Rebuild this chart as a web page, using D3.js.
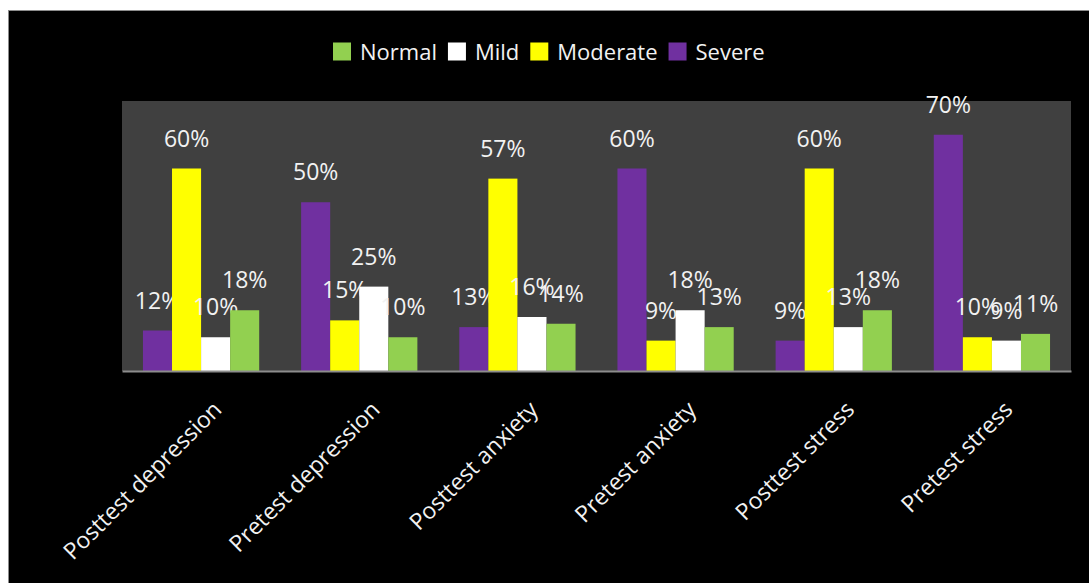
<!DOCTYPE html>
<html>
<head>
<meta charset="utf-8">
<script src="https://cdn.jsdelivr.net/npm/d3@7"></script>
<style>
  html, body { margin: 0; padding: 0; background: #ffffff; }
  svg { display: block; }
  text { font-family: "Open Sans", "Noto Sans", sans-serif; }
</style>
</head>
<body>
<svg id="chart" width="1089" height="583"></svg>
<script>
// ---- data ----
const categories = ["Posttest depression", "Pretest depression", "Posttest anxiety", "Pretest anxiety", "Posttest stress", "Pretest stress"];
const seriesOrder = ["Severe", "Moderate", "Mild", "Normal"];      // bar order inside a group
const legendOrder = ["Normal", "Mild", "Moderate", "Severe"];
const severe   = [12, 50, 13, 60, 9, 70];
const moderate = [60, 15, 57, 9, 60, 10];
const mild     = [10, 25, 16, 18, 13, 9];
const normal   = [18, 10, 14, 13, 18, 11];
const yTicks   = [0, 10, 20, 30, 40, 50, 60, 70, 80];

const seriesValues = { Severe: severe, Moderate: moderate, Mild: mild, Normal: normal };
const colors = { Normal: "#92D050", Mild: "#FFFFFF", Moderate: "#FFFF00", Severe: "#7030A0" };

const W = 1089, H = 583;
const plot = { left: 122, right: 1071, top: 101, bottom: 371 };

const svg = d3.select("#chart");

// outer black chart area with thin grey border
svg.append("rect")
  .attr("x", 8.5).attr("y", 10.5)
  .attr("width", W + 10).attr("height", H + 10)
  .attr("fill", "#000000").attr("stroke", "#8c8c8c").attr("stroke-width", 1);

// plot area
svg.append("rect")
  .attr("x", plot.left).attr("y", plot.top)
  .attr("width", plot.right - plot.left).attr("height", plot.bottom - plot.top)
  .attr("fill", "#404040");

const x0 = d3.scaleBand().domain(categories).range([plot.left, plot.right])
  .paddingInner(0.265).paddingOuter(0.1325);
const x1 = d3.scaleBand().domain(seriesOrder).range([0, x0.bandwidth()]).padding(0);
const y = d3.scaleLinear().domain([0, d3.max(yTicks)]).range([plot.bottom, plot.top]);

const groups = svg.append("g").selectAll("g")
  .data(categories).join("g")
  .attr("transform", d => `translate(${x0(d)},0)`);

const cells = groups.selectAll("g.cell")
  .data((c, i) => seriesOrder.map(s => ({ s, v: seriesValues[s][i] })))
  .join("g").attr("class", "cell");

cells.append("rect")
  .attr("x", d => x1(d.s))
  .attr("y", d => y(d.v))
  .attr("width", x1.bandwidth())
  .attr("height", d => y(0) - y(d.v))
  .attr("fill", d => colors[d.s]);

// axis line
const xAxis = d3.axisBottom(x0).tickSize(0).tickFormat("");
const axG = svg.append("g").attr("transform", `translate(0,${plot.bottom})`).call(xAxis);
axG.select(".domain").attr("stroke", "#8c8c8c").attr("stroke-width", 2);

// data labels
cells.append("text")
  .attr("x", d => x1(d.s) + x1.bandwidth() / 2)
  .attr("y", d => y(d.v) - 22)
  .attr("text-anchor", "middle")
  .attr("fill", "#f2f2f2")
  .attr("font-size", 23)
  .text(d => d.v + "%");

// category labels rotated -45
svg.append("g").selectAll("text")
  .data(categories).join("text")
  .attr("transform", d => `translate(${x0(d) + x0.bandwidth() / 2 + 22},${plot.bottom + 40}) rotate(-45)`)
  .attr("text-anchor", "end")
  .attr("fill", "#f2f2f2")
  .attr("font-size", 23)
  .text(d => d);

// legend
const lg = svg.append("g").attr("transform", "translate(333,0)");
let cx = 0;
legendOrder.forEach(s => {
  lg.append("rect").attr("x", cx).attr("y", 42.5).attr("width", 18).attr("height", 18)
    .attr("fill", colors[s]);
  const t = lg.append("text").attr("x", cx + 27).attr("y", 60)
    .attr("fill", "#f2f2f2").attr("font-size", 22).text(s);
  cx += 27 + t.node().getComputedTextLength() + 11;
});
</script>
</body>
</html>
